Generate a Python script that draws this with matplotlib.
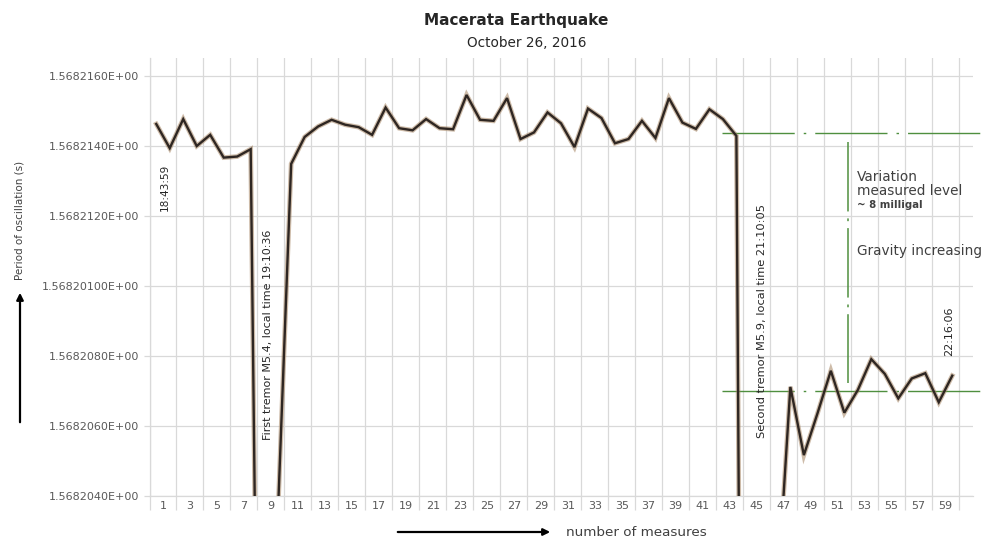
import matplotlib
matplotlib.use("Agg")
import matplotlib.pyplot as plt
import matplotlib.patheffects as pe
import numpy as np

plt.rcParams['font.family'] = ['DejaVu Sans']
plt.rcParams['lines.scale_dashes'] = False

# ---------------- data ----------------
measure = list(range(1, 61))
period = [
    1.56821462, 1.56821393, 1.56821476, 1.56821399, 1.56821431, 1.56821366,
    1.56821369, 1.56821390, 1.56818050, 1.56820330, 1.56821348, 1.56821425,
    1.56821455, 1.56821474, 1.56821460, 1.56821453, 1.56821431, 1.56821509,
    1.56821450, 1.56821444, 1.56821476, 1.56821450, 1.56821447, 1.56821545,
    1.56821474, 1.56821471, 1.56821536, 1.56821419, 1.56821438, 1.56821495,
    1.56821464, 1.56821396, 1.56821506, 1.56821479, 1.56821407, 1.56821419,
    1.56821471, 1.56821422, 1.56821536, 1.56821466, 1.56821448, 1.56821504,
    1.56821476, 1.56821428, 1.56815550, 1.56817000, 1.56820096, 1.56820711,
    1.56820516, 1.56820634, 1.56820757, 1.56820637, 1.56820702, 1.56820790,
    1.56820748, 1.56820678, 1.56820735, 1.56820750, 1.56820667, 1.56820743,
]
n_categories = 61
ytick_values = [1.5682040, 1.5682060, 1.5682080, 1.5682100, 1.5682120, 1.5682140, 1.5682160]
ytick_labels = ['1.5682040E+00', '1.5682060E+00', '1.5682080E+00', '1.56820100E+00',
                '1.5682120E+00', '1.5682140E+00', '1.5682160E+00']
xtick_labels = [str(i) for i in range(1, 60, 2)]

level_before = 1.56821437
level_after = 1.56820700
variation_top = 1.56821410
variation_bottom = 1.56820722

# ---------------- figure ----------------
W, H = 988, 541
fig = plt.figure(figsize=(W / 100, H / 100), dpi=100)
ax = fig.add_axes([149.5 / W, 1 - 495.7 / H, (972.5 - 149.5) / W, (495.7 - 58.2) / H])

ax.set_xlim(0.5, n_categories + 0.5)
ax.set_ylim(1.5682040, 1.5682165)

grid_c = '#d9d9d9'
major_x = np.arange(0.5, 61, 2)
ax.set_xticks(major_x)
ax.set_xticklabels([''] * len(major_x))
ax.set_xticks(np.arange(1.5, 60, 2), minor=True)
ax.set_xticklabels(xtick_labels, minor=True)
ax.tick_params(axis='x', which='major', length=10, width=0.9, color=grid_c, direction='out')
ax.tick_params(axis='x', which='minor', length=0, pad=3.5, labelsize=8, labelcolor='#595959')

ax.set_yticks(ytick_values)
ax.set_yticklabels(ytick_labels)
ax.tick_params(axis='y', length=4.5, width=0.9, color=grid_c, labelsize=8, labelcolor='#595959', pad=3)

ax.grid(True, which='major', color=grid_c, linewidth=0.9)
ax.set_axisbelow(True)
for s in ['top', 'right']:
    ax.spines[s].set_visible(False)
for s in ['left', 'bottom']:
    ax.spines[s].set_color(grid_c)
    ax.spines[s].set_linewidth(0.9)

# data line
ax.plot(measure, period, color='#2e2622', linewidth=1.7, solid_joinstyle='miter',
        path_effects=[pe.Stroke(linewidth=3.4, foreground='#a58462', alpha=0.55), pe.Normal()],
        zorder=5)

# green level lines
green = '#4f8f3f'
dash = (0, (52, 6.5, 1.8, 6.5))
ax.plot([42.94, 62.2], [level_before, level_before], color=green, lw=1.0, linestyle=dash,
        clip_on=False, zorder=4)
ax.plot([42.94, 62.2], [level_after, level_after], color=green, lw=1.0, linestyle=dash,
        clip_on=False, zorder=4)
ax.plot([52.28, 52.28], [variation_top, variation_bottom], color=green, lw=1.1,
        linestyle=(0, (50, 5, 2, 5)), zorder=4)

# annotations
txt_c = '#262626'
ax.text(1.67, 1.5682128, '18:43:59', rotation=90, ha='center', va='center', fontsize=7.6, color=txt_c, zorder=6)
ax.text(9.27, 1.5682086, 'First tremor M5.4, local time 19:10:36', rotation=90, ha='center', va='center',
        fontsize=8, color=txt_c, zorder=6)
ax.text(45.9, 1.5682090, 'Second tremor M5.9, local time 21:10:05', rotation=90, ha='center', va='center',
        fontsize=8.2, color=txt_c, zorder=6)
ax.text(59.79, 1.5682087, '22:16:06', rotation=90, ha='center', va='center', fontsize=8, color=txt_c, zorder=6)
ax.text(52.95, 1.5682131, 'Variation', ha='left', va='center', fontsize=9.8, color='#404040')
ax.text(52.95, 1.5682127, 'measured level', ha='left', va='center', fontsize=9.8, color='#404040')
ax.text(52.95, 1.5682123, '~ 8 milligal', ha='left', va='center', fontsize=7.3, fontweight='bold', color='#404040')
ax.text(52.95, 1.5682110, 'Gravity increasing', ha='left', va='center', fontsize=9.8, color='#404040')

# titles
fig.text(516 / W, 1 - 20 / H, 'Macerata Earthquake', ha='center', va='center', fontsize=11,
         fontweight='bold', color='#262626')
fig.text(527 / W, 1 - 43 / H, 'October 26, 2016', ha='center', va='center', fontsize=9.8, color='#262626')

# axis labels with arrows
fig.text(19 / W, 1 - 220 / H, 'Period of oscillation (s)', rotation=90, ha='center', va='center',
         fontsize=7.5, color='#404040')
fig.add_artist(matplotlib.patches.FancyArrowPatch((20 / W, 1 - 425 / H), (20 / W, 1 - 290 / H),
               transform=fig.transFigure, arrowstyle='-|>', mutation_scale=10, color='black', lw=1.6))
fig.text(636 / W, 1 - 533 / H, 'number of measures', ha='center', va='center', fontsize=9.7, color='#404040')
fig.add_artist(matplotlib.patches.FancyArrowPatch((395 / W, 1 - 532 / H), (553 / W, 1 - 532 / H),
               transform=fig.transFigure, arrowstyle='-|>', mutation_scale=10, color='black', lw=1.6))

fig.savefig('out.png', dpi=100)
